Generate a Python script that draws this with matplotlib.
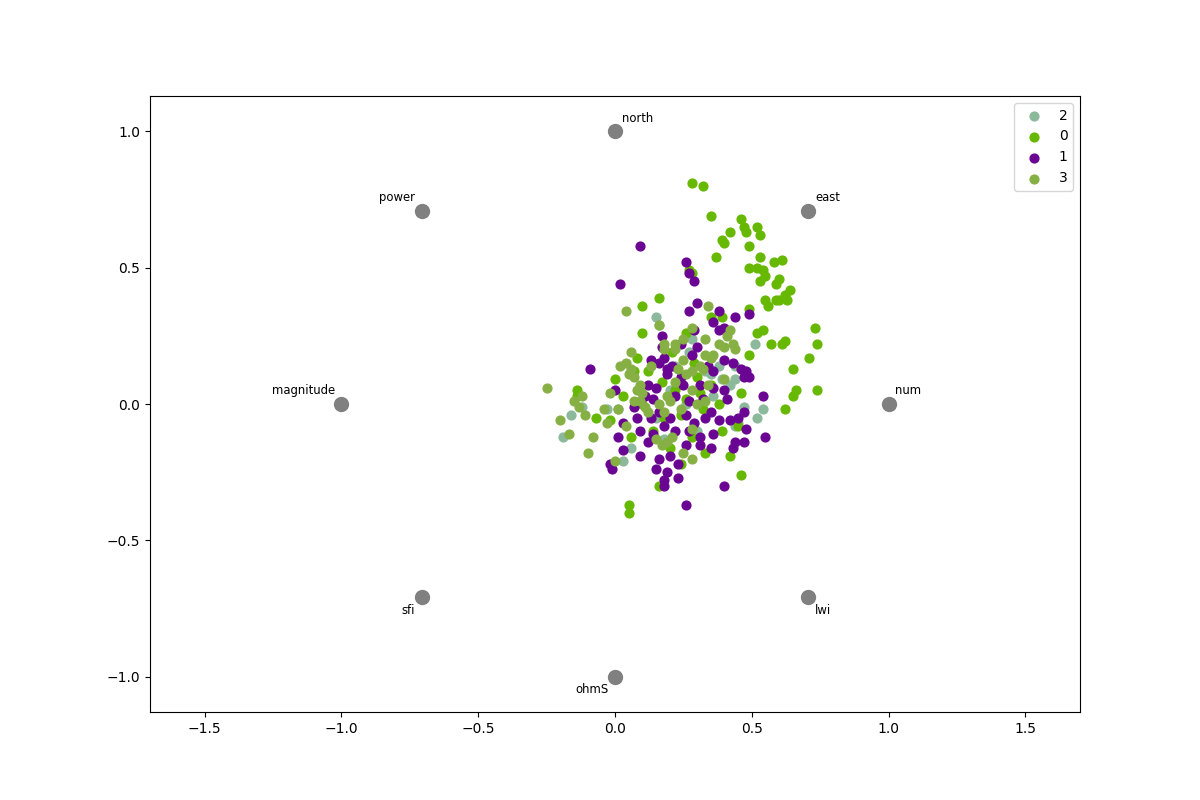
import numpy as np
import matplotlib
matplotlib.use('Agg')
import matplotlib.pyplot as plt

features = ['num', 'east', 'north', 'power', 'magnitude', 'sfi', 'ohmS', 'lwi']

class_order = ['2', '0', '1', '3']
class_colors = {'2': '#8cb89b', '0': '#66b800', '1': '#6a0492', '3': '#86b044'}

pts_0 = [(0.28,0.81),(0.32,0.80),(0.35,0.69),(0.46,0.68),(0.47,0.65),(0.48,0.63),(0.52,0.65),(0.53,0.62),
         (0.42,0.63),(0.39,0.60),(0.40,0.59),(0.49,0.58),(0.37,0.54),(0.53,0.54),(0.27,0.49),(0.28,0.48),
         (0.52,0.50),(0.49,0.50),(0.54,0.49),(0.55,0.47),(0.58,0.52),(0.61,0.53),(0.53,0.45),(0.59,0.44),
         (0.60,0.46),(0.64,0.42),(0.62,0.40),(0.55,0.38),(0.59,0.38),(0.60,0.38),(0.63,0.38),(0.56,0.36),
         (0.49,0.35),(0.16,0.39),(0.10,0.36),(0.35,0.32),(0.39,0.32),(0.73,0.28),(0.74,0.22),(0.57,0.22),
         (0.61,0.22),(0.62,0.23),(0.52,0.26),(0.54,0.27),(0.10,0.26),(0.26,0.26),(0.49,0.18),(0.71,0.17),
         (0.65,0.13),(0.07,0.12),(0.08,0.17),(0.66,0.05),(0.74,0.05),(0.65,0.03),(0.62,-0.02),(0.46,0.04),
         (0.42,-0.19),(0.46,-0.26),(0.05,-0.37),(0.05,-0.40),(0.16,-0.30),(0.35,0.07),(0.30,0.10),(0.22,0.05),
         (0.26,0.02),(0.18,-0.05),(0.14,-0.10),(0.28,-0.12),(0.33,-0.18),(0.20,-0.16),(0.24,-0.22),(0.39,-0.10),
         (0.45,-0.08),(-0.14,0.05),(-0.14,0.03),(-0.02,-0.06),(0.00,0.09),(-0.07,-0.05),(0.03,0.03),(0.06,-0.12),
         (0.17,0.08),(0.21,0.19),(0.12,0.12),(0.10,0.00),(0.32,-0.02),(0.38,0.00),(0.29,0.15),(0.24,-0.04),(0.31,0.04)]

pts_1 = [(0.09,0.58),(0.02,0.44),(0.29,0.45),(0.26,0.52),(0.27,0.48),(0.30,0.37),(0.38,0.34),(0.44,0.32),
         (0.49,0.33),(0.27,0.34),(0.40,0.28),(0.36,0.30),(0.38,0.27),(0.29,0.27),(0.24,0.22),(0.30,0.21),
         (0.17,0.25),(0.17,0.21),(0.18,0.17),(0.16,0.15),(0.13,0.16),(0.43,0.15),(0.46,0.13),(0.48,0.12),
         (0.47,0.10),(0.49,0.10),(0.34,0.14),(0.36,0.12),(0.40,0.16),(0.28,0.18),(0.21,0.14),(0.19,0.11),
         (0.24,0.10),(0.19,0.13),(0.25,0.07),(0.31,0.07),(0.36,0.06),(0.40,0.05),(0.41,0.02),(0.32,0.02),
         (0.27,0.01),(0.22,0.03),(0.15,0.06),(0.12,0.07),(0.11,0.03),(0.14,0.02),(0.07,-0.01),(0.08,-0.05),
         (0.13,-0.05),(0.16,-0.03),(0.20,-0.05),(0.26,-0.04),(0.29,-0.07),(0.33,-0.05),(0.35,-0.03),(0.38,-0.06),
         (0.42,-0.06),(0.45,-0.05),(0.47,-0.03),(0.48,-0.09),(0.44,-0.14),(0.43,-0.16),(0.47,-0.14),(0.55,-0.12),
         (0.54,0.03),(0.03,-0.07),(0.01,-0.12),(0.03,-0.17),(-0.02,-0.22),(-0.01,-0.24),(0.09,-0.10),(0.14,-0.11),
         (0.18,-0.08),(0.22,-0.10),(0.27,-0.10),(0.31,-0.12),(0.36,-0.11),(0.35,-0.16),(0.31,-0.15),(0.26,-0.15),
         (0.20,-0.19),(0.16,-0.20),(0.15,-0.24),(0.19,-0.25),(0.18,-0.28),(0.23,-0.22),(0.23,-0.27),(0.09,-0.19),
         (0.26,-0.37),(0.40,-0.30),(0.18,-0.30),(-0.09,0.13),(0.00,0.05),(0.12,-0.14)]

pts_2 = [(0.15,0.32),(0.16,0.29),(0.28,0.24),(0.27,0.19),(0.35,0.11),(0.36,0.03),(0.39,0.09),(0.42,0.07),
         (0.44,0.09),(0.38,0.14),(0.44,0.14),(0.47,-0.01),(0.54,-0.02),(0.45,-0.07),(0.52,-0.05),(0.51,0.22),
         (0.48,0.11),(0.22,0.14),(0.33,0.12),(0.20,0.05),(0.26,0.00),(0.18,-0.13),(0.15,-0.05),(-0.19,-0.12),
         (-0.16,-0.04),(-0.12,-0.01),(0.01,-0.02),(-0.03,-0.02),(0.03,-0.21),(0.06,-0.16),(0.30,-0.10),(0.44,-0.08)]

pts_3 = [(0.04,0.34),(0.16,0.29),(0.25,0.24),(0.33,0.24),(0.34,0.36),(0.22,0.22),(0.22,0.20),(0.18,0.22),
         (0.18,0.20),(0.28,0.28),(0.42,0.27),(0.41,0.25),(0.43,0.22),(0.40,0.21),(0.33,0.18),(0.31,0.14),
         (0.38,0.22),(0.32,0.13),(0.36,0.18),(0.28,0.12),(0.23,0.13),(0.25,0.16),(0.06,0.19),(0.04,0.15),
         (0.06,0.13),(0.02,0.14),(0.05,0.11),(0.07,0.10),(0.09,0.07),(0.10,0.04),(0.08,0.05),(0.07,0.01),
         (0.09,0.01),(0.11,-0.01),(0.12,-0.03),(0.16,0.00),(0.18,-0.03),(0.19,0.03),(0.20,0.01),(0.22,0.08),
         (0.26,0.11),(0.28,0.05),(0.30,0.00),(0.33,0.01),(0.34,0.07),(0.24,-0.02),(0.28,-0.09),(0.21,-0.12),
         (0.19,-0.14),(0.25,-0.18),(0.28,-0.20),(0.15,-0.13),(0.17,-0.15),(-0.25,0.06),(-0.20,-0.06),(-0.11,-0.04),
         (-0.12,0.03),(-0.08,-0.12),(-0.10,-0.18),(-0.13,-0.01),(-0.15,0.01),(-0.17,-0.11),(-0.04,-0.02),(-0.02,0.04),
         (0.01,-0.02),(0.04,-0.08),(0.00,-0.21),(-0.03,-0.07),(0.13,0.14),(0.44,0.20),(0.40,0.09),(0.35,0.17)]

points = {'0': pts_0, '1': pts_1, '2': pts_2, '3': pts_3}

fig, ax = plt.subplots(figsize=(12, 8), dpi=100)

for cls in class_order:
    xy = np.array(points[cls])
    ax.scatter(xy[:, 0], xy[:, 1], s=40, color=class_colors[cls], label=cls, zorder=2)

angles = 2 * np.pi * np.arange(len(features)) / len(features)
for name, t in zip(features, angles):
    x, y = np.cos(t), np.sin(t)
    if abs(x) < 1e-9:
        x = 0.0 if y > 0 else -1e-9
    ax.scatter(x, y, s=100, color='gray', zorder=3)
    if x < 0 and y < 0:
        ax.text(x - 0.025, y - 0.025, name, ha='right', va='top', fontsize='small')
    elif x < 0:
        ax.text(x - 0.025, y + 0.025, name, ha='right', va='bottom', fontsize='small')
    elif y < 0:
        ax.text(x + 0.025, y - 0.025, name, ha='left', va='top', fontsize='small')
    else:
        ax.text(x + 0.025, y + 0.025, name, ha='left', va='bottom', fontsize='small')

ax.set_xlim(-1.7, 1.7)
ax.set_ylim(-1.13, 1.13)
ax.set_yticks([-1.0, -0.5, 0.0, 0.5, 1.0])
ax.legend(loc='upper right')

fig.savefig('out.png')
